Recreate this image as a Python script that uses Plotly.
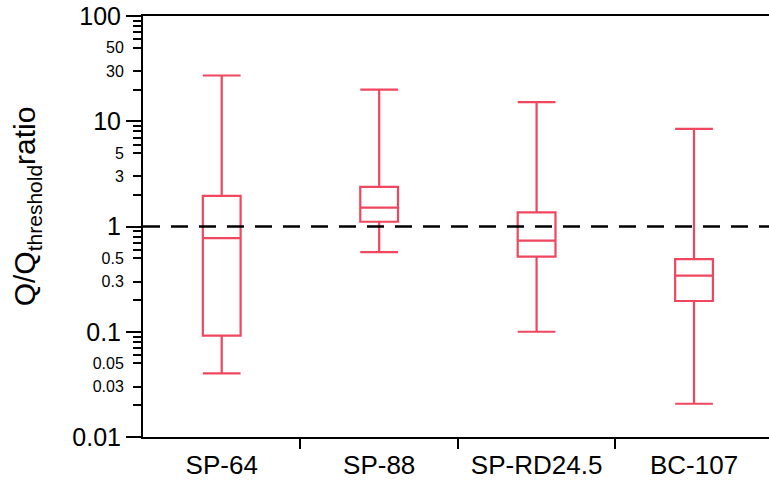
import plotly.graph_objects as go

categories = ["SP-64", "SP-88", "SP-RD24.5", "BC-107"]
lower_whisker = [0.0403, 0.57, 0.100, 0.0207]
q1 = [0.092, 1.11, 0.518, 0.196]
median = [0.775, 1.51, 0.734, 0.341]
q3 = [1.95, 2.38, 1.36, 0.489]
upper_whisker = [27.2, 20.0, 15.2, 8.47]
threshold = 1.0

major_ticks = [0.01, 0.1, 1, 10, 100]
major_labels = ["0.01", "0.1", "1", "10", "100"]
labeled_minor = [0.03, 0.05, 0.3, 0.5, 3, 5, 30, 50]
labeled_minor_text = ["0.03", "0.05", "0.3", "0.5", "3", "5", "30", "50"]
unlabeled_minor = [d * m for d in [0.01, 0.1, 1, 10] for m in [2, 6, 7, 8, 9]]

RED = "#F0475F"
FONT = "Liberation Sans, Arial, sans-serif"

W, H = 769, 486
L, T, B = 142.75, 16, 49
cat_px = 157.5
plot_w = W - L
xmax = -0.5 + plot_w / cat_px

fig = go.Figure()
for i, name in enumerate(categories):
    fig.add_trace(go.Box(
        x=[i], q1=[q1[i]], median=[median[i]], q3=[q3[i]],
        lowerfence=[lower_whisker[i]], upperfence=[upper_whisker[i]],
        name=name, width=0.24, whiskerwidth=1,
        line=dict(color=RED, width=2.2), fillcolor="rgba(255,255,255,0)",
        boxpoints=False, showlegend=False, hoverinfo="skip",
    ))

fig.add_trace(go.Scatter(x=[0], y=[1], yaxis="y2", mode="markers",
                         marker=dict(opacity=0), showlegend=False, hoverinfo="skip"))

fig.add_shape(type="line", xref="paper", x0=0, x1=1, yref="y", y0=threshold, y1=threshold,
              line=dict(color="black", width=2.5, dash="17px,11px"), layer="above")

fig.update_layout(
    width=W, height=H,
    margin=dict(l=L, r=0, t=T, b=B, pad=0),
    plot_bgcolor="white", paper_bgcolor="white",
    font=dict(family=FONT, color="black"),
    xaxis=dict(
        type="linear", range=[-0.5, xmax], tickvals=list(range(len(categories))),
        ticktext=categories, ticks="", tickfont=dict(size=26, family=FONT),
        showline=True, linecolor="black", linewidth=2, mirror=True,
        showgrid=False, zeroline=False, ticklabelstandoff=4,
        minor=dict(tickvals=[0.5, 1.5, 2.5], ticks="outside", ticklen=10,
                   tickwidth=2, tickcolor="black", showgrid=False),
    ),
    yaxis=dict(
        type="log", range=[-2, 2], tickvals=major_ticks, ticktext=major_labels,
        ticks="outside", ticklen=15, tickwidth=2, tickcolor="black",
        tickfont=dict(size=25, family=FONT),
        showline=True, linecolor="black", linewidth=2, mirror=False,
        showgrid=False, zeroline=False, ticklabelstandoff=0,
        minor=dict(tickvals=unlabeled_minor, ticks="outside", ticklen=8,
                   tickwidth=2, tickcolor="black", showgrid=False),
    ),
    yaxis2=dict(
        type="log", range=[-2, 2], overlaying="y", side="left", anchor="x",
        tickvals=labeled_minor, ticktext=labeled_minor_text,
        ticks="outside", ticklen=9, tickwidth=2, tickcolor="black",
        tickfont=dict(size=16, family=FONT), showline=False, showgrid=False,
        zeroline=False, ticklabelstandoff=6,
    ),
)

fig.add_annotation(
    text="Q/Q<sub>threshold</sub>ratio", textangle=-90, showarrow=False,
    xref="paper", yref="paper", x=(27 - L) / plot_w, y=(437 - 206) / (H - T - B),
    xanchor="center", yanchor="middle", font=dict(size=30, family=FONT, color="black"),
)

fig.write_html("out.html")
